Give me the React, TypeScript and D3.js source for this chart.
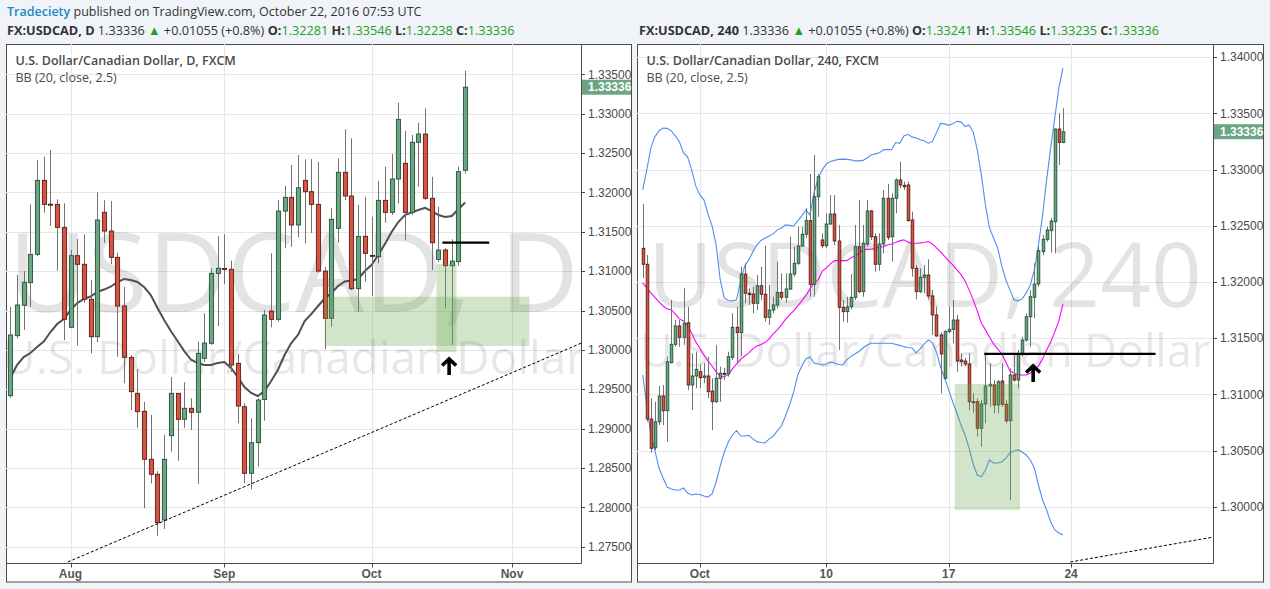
import * as d3 from "d3";

type Candle = [number, number, number, number]; // open, high, low, close

// ---- USDCAD daily (left panel) ----
const dailyCandles: Candle[] = [
  [1.29418, 1.30548, 1.29392, 1.30189],
  [1.3018, 1.30951, 1.30147, 1.3057],
  [1.30566, 1.31001, 1.30252, 1.30858],
  [1.30853, 1.31848, 1.30548, 1.31213],
  [1.31213, 1.32411, 1.31192, 1.32153],
  [1.32153, 1.32453, 1.31742, 1.31848],
  [1.3185, 1.32538, 1.31573, 1.31845],
  [1.31848, 1.31912, 1.31005, 1.31556],
  [1.31556, 1.31861, 1.30125, 1.30388],
  [1.30286, 1.31268, 1.30274, 1.31196],
  [1.31196, 1.31408, 1.30053, 1.31087],
  [1.31087, 1.31468, 1.306, 1.30642],
  [1.30642, 1.30887, 1.29956, 1.30167],
  [1.30167, 1.32001, 1.30096, 1.31649],
  [1.31747, 1.31903, 1.31361, 1.31509],
  [1.31509, 1.3189, 1.3109, 1.31175],
  [1.31175, 1.31234, 1.29913, 1.30557],
  [1.30557, 1.30802, 1.29575, 1.29905],
  [1.29905, 1.29935, 1.29236, 1.29469],
  [1.29448, 1.29757, 1.29011, 1.29215],
  [1.2922, 1.29338, 1.27988, 1.2861],
  [1.2861, 1.29173, 1.28305, 1.2842],
  [1.2842, 1.28461, 1.2764, 1.27805],
  [1.27839, 1.28919, 1.27725, 1.2861],
  [1.2891, 1.29655, 1.28707, 1.29448],
  [1.29448, 1.29452, 1.28592, 1.29118],
  [1.29118, 1.29588, 1.29011, 1.29258],
  [1.29258, 1.29385, 1.28982, 1.29207],
  [1.29207, 1.30104, 1.28296, 1.29956],
  [1.29893, 1.30464, 1.29846, 1.30087],
  [1.30083, 1.31036, 1.30062, 1.30972],
  [1.30972, 1.31446, 1.30302, 1.31036],
  [1.31033, 1.31468, 1.30833, 1.31028],
  [1.31023, 1.31132, 1.29719, 1.29808],
  [1.29829, 1.29947, 1.29067, 1.29287],
  [1.29278, 1.29321, 1.28305, 1.28432],
  [1.28432, 1.29131, 1.28229, 1.28821],
  [1.28821, 1.29385, 1.28516, 1.29363],
  [1.2937, 1.30506, 1.291, 1.30443],
  [1.30493, 1.31226, 1.30286, 1.30388],
  [1.30388, 1.31903, 1.30358, 1.31763],
  [1.31763, 1.32081, 1.3129, 1.31937],
  [1.31937, 1.32348, 1.3131, 1.31586],
  [1.31586, 1.32475, 1.31429, 1.32059],
  [1.32153, 1.3242, 1.31353, 1.32009],
  [1.32009, 1.32424, 1.31484, 1.31848],
  [1.31848, 1.3239, 1.3098, 1.31001],
  [1.31001, 1.31056, 1.30007, 1.30401],
  [1.30401, 1.31798, 1.30294, 1.31658],
  [1.31544, 1.32433, 1.31361, 1.32255],
  [1.32255, 1.32801, 1.31903, 1.31954],
  [1.31954, 1.32687, 1.3076, 1.30777],
  [1.30777, 1.3184, 1.30485, 1.31442],
  [1.31442, 1.31945, 1.30866, 1.31226],
  [1.312, 1.31691, 1.30684, 1.31192],
  [1.31183, 1.32144, 1.31099, 1.31899],
  [1.31899, 1.32326, 1.31615, 1.31747],
  [1.31747, 1.32487, 1.31713, 1.3217],
  [1.3217, 1.33139, 1.31861, 1.32928],
  [1.32369, 1.32783, 1.31395, 1.31747],
  [1.31747, 1.32729, 1.31713, 1.32636],
  [1.32636, 1.32885, 1.32072, 1.32741],
  [1.32741, 1.33068, 1.31903, 1.31925],
  [1.31925, 1.32199, 1.31014, 1.31361],
  [1.3115, 1.31818, 1.31116, 1.31268],
  [1.31268, 1.31293, 1.30528, 1.31069],
  [1.31069, 1.31404, 1.30062, 1.31128],
  [1.3112, 1.32326, 1.31069, 1.32263],
  [1.32281, 1.33546, 1.32238, 1.33336],
];

const dailyBasis = [
  1.29642, 1.29808, 1.29909, 1.2996, 1.30036, 1.30106, 1.30227, 1.30328, 1.30392, 1.30506,
  1.30595, 1.30646, 1.30678, 1.30735, 1.30766, 1.30802, 1.30862, 1.309, 1.30887, 1.30862,
  1.30798, 1.30697, 1.30532, 1.30379, 1.30239, 1.30112, 1.29985, 1.29877, 1.29833, 1.29808,
  1.29808, 1.29833, 1.29846, 1.2977, 1.29655, 1.29528, 1.29452, 1.29414, 1.29477, 1.29604,
  1.29744, 1.29935, 1.30087, 1.30189, 1.30366, 1.30455, 1.30557, 1.30652, 1.30722, 1.30811,
  1.30868, 1.30881, 1.309, 1.31001, 1.31078, 1.31205, 1.31344, 1.31497, 1.31624, 1.31713,
  1.31747, 1.31776, 1.31805, 1.31763, 1.31713, 1.31687, 1.317, 1.31789, 1.31871,
];

const dailyPriceTicks = [
  1.275, 1.28, 1.285, 1.29, 1.295, 1.3, 1.305, 1.31, 1.315, 1.32, 1.325, 1.33, 1.335,
];
const dailyTimeIdx = [9, 32, 54, 75];
const dailyTimeLabels = ["Aug", "Sep", "Oct", "Nov"];

// ---- USDCAD 240 (right panel) ----
const h4Candles: Candle[] = [
  [1.32299, 1.32693, 1.32032, 1.32157],
  [1.32157, 1.32239, 1.30756, 1.3078],
  [1.3078, 1.30964, 1.3048, 1.3052],
  [1.30525, 1.30934, 1.30504, 1.30756],
  [1.30756, 1.31074, 1.30727, 1.30985],
  [1.30985, 1.31083, 1.30727, 1.30854],
  [1.30854, 1.31335, 1.30578, 1.3129],
  [1.31281, 1.31839, 1.31276, 1.31445],
  [1.31445, 1.31661, 1.31424, 1.31608],
  [1.31608, 1.31661, 1.31424, 1.31507],
  [1.31507, 1.31943, 1.31439, 1.31632],
  [1.31637, 1.31779, 1.31038, 1.31083],
  [1.31083, 1.31365, 1.3086, 1.31163],
  [1.31163, 1.31379, 1.31053, 1.31222],
  [1.31201, 1.31261, 1.31053, 1.31148],
  [1.31151, 1.31276, 1.31098, 1.31163],
  [1.31163, 1.31335, 1.30964, 1.31023],
  [1.31029, 1.31142, 1.30682, 1.30934],
  [1.30934, 1.31439, 1.30925, 1.31142],
  [1.31142, 1.31246, 1.30934, 1.31187],
  [1.31187, 1.31234, 1.31127, 1.31178],
  [1.31181, 1.31379, 1.31157, 1.31335],
  [1.31329, 1.31721, 1.31305, 1.31596],
  [1.31596, 1.31779, 1.31276, 1.31548],
  [1.31548, 1.32135, 1.31335, 1.3207],
  [1.3207, 1.32166, 1.3181, 1.31899],
  [1.31899, 1.31943, 1.31795, 1.31886],
  [1.31892, 1.31957, 1.31721, 1.3181],
  [1.3181, 1.32061, 1.3175, 1.31966],
  [1.31966, 1.32135, 1.31839, 1.3189],
  [1.3189, 1.32322, 1.31646, 1.31685],
  [1.31685, 1.31972, 1.31617, 1.3175],
  [1.3175, 1.31868, 1.31721, 1.31795],
  [1.31795, 1.3218, 1.31765, 1.31907],
  [1.31907, 1.32077, 1.31839, 1.31863],
  [1.31863, 1.32077, 1.31815, 1.31937],
  [1.31937, 1.32402, 1.31928, 1.3207],
  [1.3207, 1.32313, 1.32046, 1.32166],
  [1.32166, 1.32491, 1.3215, 1.32319],
  [1.32319, 1.32491, 1.32313, 1.32424],
  [1.32424, 1.32655, 1.32388, 1.32545],
  [1.32545, 1.3296, 1.31868, 1.31979],
  [1.31979, 1.33129, 1.31868, 1.32758],
  [1.32758, 1.3296, 1.3258, 1.32936],
  [1.32373, 1.32432, 1.32299, 1.32322],
  [1.32322, 1.3261, 1.32299, 1.32515],
  [1.32515, 1.32773, 1.32506, 1.32604],
  [1.32604, 1.32773, 1.32328, 1.32364],
  [1.32364, 1.32506, 1.31394, 1.31774],
  [1.31774, 1.31839, 1.31646, 1.31735],
  [1.31735, 1.31868, 1.31637, 1.31779],
  [1.31779, 1.3207, 1.31756, 1.31863],
  [1.31863, 1.32506, 1.31839, 1.32313],
  [1.32313, 1.32729, 1.31899, 1.31913],
  [1.31913, 1.32506, 1.31868, 1.32343],
  [1.32337, 1.32729, 1.32313, 1.32631],
  [1.32631, 1.3264, 1.32373, 1.32402],
  [1.32402, 1.32432, 1.32091, 1.32157],
  [1.32157, 1.32432, 1.321, 1.32337],
  [1.32337, 1.32818, 1.32254, 1.32744],
  [1.32744, 1.32871, 1.32373, 1.32397],
  [1.32402, 1.32788, 1.3218, 1.32744],
  [1.32744, 1.32922, 1.3261, 1.32907],
  [1.32907, 1.3307, 1.32833, 1.32862],
  [1.32859, 1.32892, 1.32818, 1.32847],
  [1.32862, 1.32892, 1.32536, 1.32545],
  [1.32551, 1.32625, 1.32046, 1.32121],
  [1.32121, 1.3215, 1.31845, 1.31913],
  [1.31913, 1.32121, 1.31899, 1.32041],
  [1.32041, 1.3215, 1.31899, 1.32061],
  [1.32061, 1.32201, 1.31845, 1.31875],
  [1.31875, 1.31928, 1.31528, 1.31706],
  [1.31706, 1.31779, 1.31512, 1.31519],
  [1.31528, 1.31548, 1.31009, 1.31359],
  [1.31142, 1.31572, 1.31133, 1.31557],
  [1.31557, 1.31779, 1.31545, 1.31578],
  [1.31578, 1.31839, 1.31454, 1.31661],
  [1.31661, 1.31706, 1.31201, 1.31296],
  [1.31305, 1.31365, 1.31246, 1.3129],
  [1.31296, 1.31323, 1.31252, 1.3127],
  [1.3127, 1.31365, 1.3086, 1.30934],
  [1.30934, 1.31009, 1.30836, 1.30929],
  [1.30934, 1.30964, 1.30623, 1.30698],
  [1.30698, 1.30949, 1.30534, 1.30914],
  [1.30914, 1.31365, 1.30742, 1.31074],
  [1.31074, 1.31276, 1.3089, 1.31089],
  [1.31083, 1.31127, 1.30831, 1.30905],
  [1.30905, 1.31127, 1.30831, 1.31112],
  [1.31118, 1.31276, 1.3089, 1.30911],
  [1.30911, 1.30949, 1.30742, 1.30765],
  [1.30765, 1.31231, 1.3006, 1.31172],
  [1.31172, 1.31365, 1.31112, 1.31127],
  [1.31127, 1.31394, 1.31053, 1.31353],
  [1.31353, 1.31512, 1.31335, 1.31483],
  [1.31483, 1.31721, 1.31468, 1.3169],
  [1.3169, 1.31928, 1.31424, 1.31868],
  [1.31863, 1.32166, 1.31676, 1.31981],
  [1.31981, 1.32313, 1.31957, 1.32278],
  [1.32269, 1.32417, 1.32239, 1.32379],
  [1.32379, 1.32491, 1.32358, 1.32462],
  [1.32456, 1.32566, 1.3226, 1.32542],
  [1.32536, 1.33366, 1.32254, 1.3336],
  [1.3336, 1.335, 1.3304, 1.3324],
  [1.33241, 1.33546, 1.33235, 1.33336],
];

const h4Upper = [
  1.32819, 1.32997, 1.33192, 1.33293, 1.33344, 1.33368, 1.33366, 1.33344, 1.33299, 1.33246,
  1.33148, 1.33112, 1.32997, 1.32854, 1.32774, 1.3273, 1.32605, 1.32498, 1.32329, 1.32018,
  1.31857, 1.31835, 1.31831, 1.3184, 1.32009, 1.32142, 1.32196, 1.32267, 1.32329, 1.32369,
  1.32391, 1.32409, 1.32427, 1.32463, 1.3248, 1.32507, 1.32503, 1.32498, 1.32543, 1.32587,
  1.32641, 1.32596, 1.32792, 1.32923, 1.32997, 1.3305, 1.33072, 1.33081, 1.3309, 1.33092,
  1.3309, 1.33086, 1.33077, 1.33077, 1.33081, 1.33103, 1.3313, 1.33139, 1.33148, 1.33175,
  1.33179, 1.33176, 1.3324, 1.33233, 1.33299, 1.33313, 1.3329, 1.33281, 1.33264, 1.33255,
  1.33234, 1.3325, 1.33326, 1.3341, 1.33406, 1.33393, 1.33406, 1.33428, 1.33424, 1.33382,
  1.33397, 1.33335, 1.33175, 1.32952, 1.32685, 1.3248, 1.32391, 1.32302, 1.32142, 1.32018,
  1.31929, 1.3184, 1.31831, 1.31849, 1.31902, 1.31973, 1.32107, 1.32329, 1.32587, 1.32908,
  1.33192, 1.33459, 1.33726, 1.33904,
];

const h4Basis = [
  1.31991, 1.31946, 1.31902, 1.31862, 1.31822, 1.31786, 1.3176, 1.31751, 1.31715, 1.31671,
  1.31653, 1.31608, 1.31546, 1.31466, 1.31412, 1.3135, 1.31297, 1.31252, 1.31199, 1.31163,
  1.31154, 1.31177, 1.31226, 1.3127, 1.3131, 1.31341, 1.31368, 1.31404, 1.3143, 1.31444,
  1.3146, 1.31493, 1.31537, 1.31573, 1.31617, 1.31666, 1.31706, 1.31742, 1.31786, 1.31831,
  1.3188, 1.31938, 1.31991, 1.32018, 1.32093, 1.32124, 1.3216, 1.32189, 1.32189, 1.32189,
  1.32189, 1.32213, 1.32231, 1.32253, 1.32285, 1.32289, 1.32291, 1.32298, 1.32311, 1.32314,
  1.32329, 1.32338, 1.32351, 1.32365, 1.32374, 1.32356, 1.32342, 1.32344, 1.32347, 1.32351,
  1.32359, 1.32338, 1.32302, 1.32267, 1.32227, 1.32187, 1.32151, 1.32107, 1.32067, 1.32009,
  1.31929, 1.3184, 1.31742, 1.31635, 1.31573, 1.3151, 1.31448, 1.31404, 1.31359, 1.31288,
  1.31208, 1.3119, 1.31172, 1.31172, 1.31172, 1.3119, 1.31217, 1.31252, 1.31315, 1.31395,
  1.31466, 1.31555, 1.31653, 1.31804,
];

const h4Lower = [
  1.31172, 1.30905, 1.30638, 1.30496, 1.30344, 1.30255, 1.30175, 1.30158, 1.30149, 1.30149,
  1.30166, 1.30122, 1.30104, 1.30113, 1.30109, 1.30095, 1.30086, 1.30113, 1.3022, 1.30362,
  1.30487, 1.30576, 1.30638, 1.30678, 1.30629, 1.30629, 1.30634, 1.30603, 1.30579, 1.30571,
  1.30567, 1.30603, 1.30629, 1.30674, 1.30718, 1.30807, 1.30905, 1.31021, 1.31172, 1.31252,
  1.31315, 1.31332, 1.31279, 1.3127, 1.31261, 1.3127, 1.31288, 1.31279, 1.31266, 1.31261,
  1.31306, 1.31337, 1.31359, 1.31381, 1.31412, 1.31439, 1.31454, 1.31454, 1.31454, 1.31454,
  1.31454, 1.31454, 1.31444, 1.31435, 1.31426, 1.31417, 1.31412, 1.31368, 1.31404, 1.31448,
  1.31484, 1.31457, 1.31377, 1.31243, 1.31145, 1.31039, 1.30932, 1.30834, 1.30727, 1.30638,
  1.30522, 1.3038, 1.30282, 1.30267, 1.30327, 1.30416, 1.30389, 1.30389, 1.30398, 1.30433,
  1.30478, 1.30496, 1.30505, 1.30487, 1.3046, 1.30416, 1.30344, 1.30193, 1.3006, 1.29971,
  1.29864, 1.29793, 1.29766, 1.29748,
];

const h4PriceTicks = [1.3, 1.305, 1.31, 1.315, 1.32, 1.325, 1.33, 1.335, 1.34];
const h4TimeIdx = [14, 45, 75, 105];
const h4TimeLabels = ["Oct", "10", "17", "24"];

const lastPrice = 1.33336;

const UP_FILL = "#6ba583";
const UP_LINE = "#225437";
const DN_FILL = "#d75442";
const DN_LINE = "#5b1a13";
const WICK = "#737375";
const GRID = "#e6e6e6";
const BORDER = "#4a4a4a";
const TXT = "#4a4a4a";
const GREEN_TXT = "#22a022";

const TOP = 44;
const PLOT_BOTTOM = 563.5;
const BOTTOM = 581.5;

type Line = { values: number[]; color: string; width: number };
type Drawings = {
  rects: { i0: number; i1: number; p0: number; p1: number }[];
  hline: { i0: number; i1: number; p: number };
  arrow: { i: number; p: number };
  trend: { i0: number; p0: number; i1: number; p1: number };
};

type PanelCfg = {
  id: string;
  left: number;
  plotRight: number;
  outerRight: number;
  candles: Candle[];
  idxDomain: [number, number];
  idxRange: [number, number];
  priceDomain: [number, number];
  priceRange: [number, number];
  priceTicks: number[];
  timeIdx: number[];
  timeLabels: string[];
  bodyW: number;
  lines: Line[];
  title: string;
  wm1: string;
  wm1Size: number;
  wm1Y: number;
  wm2Size: number;
  wm2Y: number;
  drawings: Drawings;
};

const fmt = d3.format(".5f");

function Panel({ cfg }: { cfg: PanelCfg }) {
  const x = d3.scaleLinear().domain(cfg.idxDomain).range(cfg.idxRange);
  const y = d3.scaleLinear().domain(cfg.priceDomain).range(cfg.priceRange);
  const clipId = "clip-" + cfg.id;
  const cx = (cfg.left + cfg.plotRight) / 2;
  const lineGen = d3
    .line<number>()
    .x((_, i) => x(i))
    .y((d) => y(d));
  const dr = cfg.drawings;
  const ax = x(dr.arrow.i);
  const ay = y(dr.arrow.p);

  return (
    <g>
      <defs>
        <clipPath id={clipId}>
          <rect x={cfg.left} y={TOP} width={cfg.plotRight - cfg.left} height={PLOT_BOTTOM - TOP} />
        </clipPath>
      </defs>
      <rect
        x={cfg.left + 0.5}
        y={TOP + 0.5}
        width={cfg.outerRight - cfg.left}
        height={BOTTOM - TOP}
        fill="#fff"
        stroke={BORDER}
      />
      <g clipPath={`url(#${clipId})`}>
        {cfg.priceTicks.map((p) => (
          <line key={p} x1={cfg.left} x2={cfg.plotRight} y1={Math.round(y(p)) + 0.5} y2={Math.round(y(p)) + 0.5} stroke={GRID} />
        ))}
        {cfg.timeIdx.map((t) => (
          <line key={t} x1={Math.round(x(t)) + 0.5} x2={Math.round(x(t)) + 0.5} y1={TOP} y2={PLOT_BOTTOM} stroke={GRID} />
        ))}
        <text x={cx} y={cfg.wm1Y} textAnchor="middle" fontSize={cfg.wm1Size} fill="#000" fillOpacity={0.11}>
          {cfg.wm1}
        </text>
        <text x={cx} y={cfg.wm2Y} textAnchor="middle" fontSize={cfg.wm2Size} fill="#000" fillOpacity={0.11}>
          U.S. Dollar/Canadian Dollar
        </text>

        {cfg.lines.map((l, k) => (
          <path key={k} d={lineGen(l.values) || ""} fill="none" stroke={l.color} strokeWidth={l.width} />
        ))}

        {cfg.candles.map((c, i) => {
          const [o, h, lo, cl] = c;
          const up = cl >= o;
          const xc = Math.round(x(i)) + 0.5;
          const yTop = y(Math.max(o, cl));
          const yBot = y(Math.min(o, cl));
          const bh = Math.max(1, yBot - yTop);
          return (
            <g key={i}>
              <line x1={xc} x2={xc} y1={y(h)} y2={y(lo)} stroke={WICK} />
              <rect
                x={xc - cfg.bodyW / 2}
                y={yTop}
                width={cfg.bodyW}
                height={bh}
                fill={up ? UP_FILL : DN_FILL}
                stroke={up ? UP_LINE : DN_LINE}
                strokeWidth={0.9}
              />
            </g>
          );
        })}

        {dr.rects.map((r, k) => (
          <rect
            key={k}
            x={x(r.i0)}
            y={y(r.p0)}
            width={x(r.i1) - x(r.i0)}
            height={y(r.p1) - y(r.p0)}
            fill="#6aa84f"
            fillOpacity={0.3}
          />
        ))}
        <line x1={x(dr.hline.i0)} x2={x(dr.hline.i1)} y1={y(dr.hline.p)} y2={y(dr.hline.p)} stroke="#000" strokeWidth={2.2} />
        <line
          x1={x(dr.trend.i0)}
          y1={y(dr.trend.p0)}
          x2={x(dr.trend.i1)}
          y2={y(dr.trend.p1)}
          stroke="#000"
          strokeWidth={1}
          strokeDasharray="3,2"
        />
        <path
          d={`M${ax - 7},${ay + 7.5} L${ax},${ay + 1} L${ax + 7},${ay + 7.5} M${ax},${ay + 2} L${ax},${ay + 17}`}
          fill="none"
          stroke="#000"
          strokeWidth={3.6}
        />
      </g>

      {/* axes */}
      <line x1={cfg.plotRight + 0.5} x2={cfg.plotRight + 0.5} y1={TOP} y2={PLOT_BOTTOM} stroke={BORDER} />
      <line x1={cfg.left} x2={cfg.plotRight + 0.5} y1={PLOT_BOTTOM} y2={PLOT_BOTTOM} stroke={BORDER} />
      {cfg.priceTicks.map((p) => (
        <g key={p}>
          <line x1={cfg.plotRight} x2={cfg.plotRight + 4} y1={Math.round(y(p)) + 0.5} y2={Math.round(y(p)) + 0.5} stroke={BORDER} />
          <text
            x={cfg.plotRight + 7}
            y={y(p)}
            dy="0.35em"
            fontSize={12}
            fontFamily="'Liberation Sans', Arial, sans-serif"
            fill={TXT}
          >
            {fmt(p)}
          </text>
        </g>
      ))}
      {cfg.timeIdx.map((t, k) => (
        <g key={t}>
          <line x1={Math.round(x(t)) + 0.5} x2={Math.round(x(t)) + 0.5} y1={PLOT_BOTTOM} y2={PLOT_BOTTOM + 4} stroke={BORDER} />
          <text
            x={x(t)}
            y={PLOT_BOTTOM + 14.5}
            textAnchor="middle"
            fontSize={12}
            fontWeight={700}
            fontFamily="'Liberation Sans', Arial, sans-serif"
            fill="#555"
          >
            {cfg.timeLabels[k]}
          </text>
        </g>
      ))}
      <rect x={cfg.plotRight + 1} y={y(lastPrice) - 7.5} width={cfg.outerRight - cfg.plotRight - 1} height={15} fill={UP_FILL} />
      <text
        x={cfg.plotRight + 7}
        y={y(lastPrice)}
        dy="0.35em"
        fontSize={12}
        fontWeight={700}
        fontFamily="'Liberation Sans', Arial, sans-serif"
        fill="#fff"
      >
        {fmt(lastPrice)}
      </text>

      <text x={cfg.left + 9.5} y={TOP + 21} fontSize={12.5} fontWeight={600} fill={TXT}>
        {cfg.title}
      </text>
      <text x={cfg.left + 9.5} y={TOP + 37.5} fontSize={12.5} fill={TXT}>
        BB (20, close, 2.5)
      </text>
    </g>
  );
}

function Quote({ x, label, o, h, l, c }: { x: number; label: string; o: string; h: string; l: string; c: string }) {
  return (
    <text x={x} y={35} fontSize={12.7} fill="#333">
      <tspan fontWeight={700}>{label}</tspan>
      <tspan> 1.33336 </tspan>
      <tspan fill={GREEN_TXT}>▲</tspan>
      <tspan> +0.01055 (+0.8%) </tspan>
      <tspan fontWeight={700}>O:</tspan>
      <tspan fill={GREEN_TXT}>{o}</tspan>
      <tspan fontWeight={700}> H:</tspan>
      <tspan fill={GREEN_TXT}>{h}</tspan>
      <tspan fontWeight={700}> L:</tspan>
      <tspan fill={GREEN_TXT}>{l}</tspan>
      <tspan fontWeight={700}> C:</tspan>
      <tspan fill={GREEN_TXT}>{c}</tspan>
    </text>
  );
}

const leftCfg: PanelCfg = {
  id: "d",
  left: 6,
  plotRight: 581,
  outerRight: 631,
  candles: dailyCandles,
  idxDomain: [0, 75],
  idxRange: [10.3, 512],
  priceDomain: [1.275, 1.335],
  priceRange: [546.7, 74.3],
  priceTicks: dailyPriceTicks,
  timeIdx: dailyTimeIdx,
  timeLabels: dailyTimeLabels,
  bodyW: 4.2,
  lines: [{ values: dailyBasis, color: "#505050", width: 2 }],
  title: "U.S. Dollar/Canadian Dollar, D, FXCM",
  wm1: "USDCAD, D",
  wm1Size: 109,
  wm1Y: 312,
  wm2Size: 46,
  wm2Y: 374,
  drawings: {
    rects: [
      { i0: 47.0, i1: 77.6, p0: 1.30675, p1: 1.30049 },
      { i0: 63.7, i1: 66.7, p0: 1.3109, p1: 1.29973 },
    ],
    hline: { i0: 64.6, i1: 71.6, p: 1.31361 },
    arrow: { i: 65.6, p: 1.29897 },
    trend: { i0: 8.6, p0: 1.27306, i1: 85.4, p1: 1.30087 },
  },
};

const rightCfg: PanelCfg = {
  id: "h4",
  left: 637,
  plotRight: 1213,
  outerRight: 1263,
  candles: h4Candles,
  idxDomain: [0, 105],
  idxRange: [642.7, 1071.1],
  priceDomain: [1.3, 1.34],
  priceRange: [506.7, 57.1],
  priceTicks: h4PriceTicks,
  timeIdx: h4TimeIdx,
  timeLabels: h4TimeLabels,
  bodyW: 2.6,
  lines: [
    { values: h4Upper, color: "#4f8ff0", width: 1.1 },
    { values: h4Lower, color: "#4f8ff0", width: 1.1 },
    { values: h4Basis, color: "#ff00ff", width: 1.1 },
  ],
  title: "U.S. Dollar/Canadian Dollar, 240, FXCM",
  wm1: "USDCAD, 240",
  wm1Size: 89,
  wm1Y: 306.5,
  wm2Size: 45,
  wm2Y: 367,
  drawings: {
    rects: [{ i0: 76.5, i1: 92.5, p0: 1.31092, p1: 1.29971 }],
    hline: { i0: 83.7, i1: 125.7, p: 1.31359 },
    arrow: { i: 95.7, p: 1.31261 },
    trend: { i0: 104.8, p0: 1.29508, i1: 139.9, p1: 1.2973 },
  },
};

export default function App() {
  return (
    <svg
      width={1270}
      height={589}
      style={{ position: "absolute", left: 0, top: 0, display: "block" }}
      fontFamily="'Open Sans', sans-serif"
    >
      <rect width={1270} height={589} fill="#f0f3f7" />
      <text x={7} y={16} fontSize={12.5} fill="#333">
        <tspan fill="#1f87c9" fontWeight={600}>Tradeciety</tspan>
        <tspan> published on TradingView.com, October 22, 2016 07:53 UTC</tspan>
      </text>
      <Quote x={7} label="FX:USDCAD, D" o="1.32281" h="1.33546" l="1.32238" c="1.33336" />
      <Quote x={639} label="FX:USDCAD, 240" o="1.33241" h="1.33546" l="1.33235" c="1.33336" />
      <Panel cfg={leftCfg} />
      <Panel cfg={rightCfg} />
    </svg>
  );
}
